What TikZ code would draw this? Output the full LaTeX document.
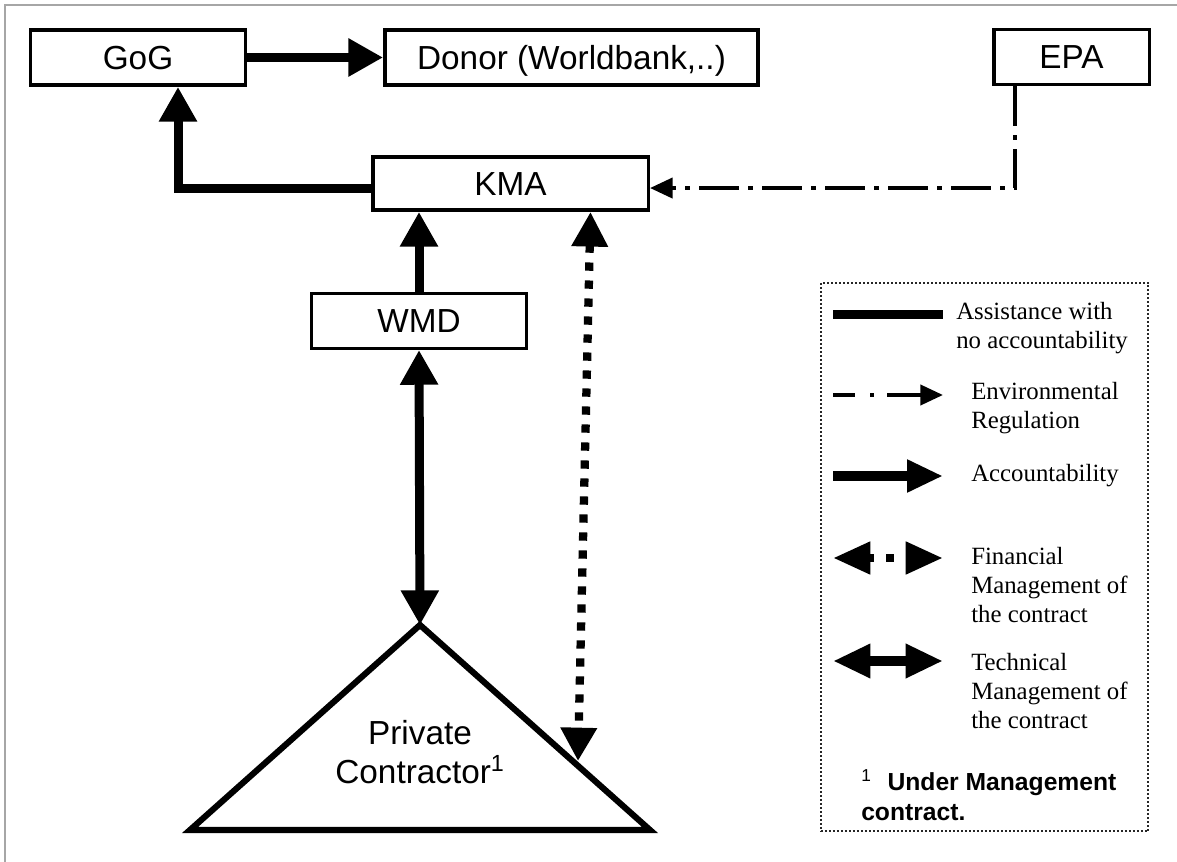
\documentclass[tikz,border=0pt]{standalone}
\usepackage{fontspec}
\setmainfont{Liberation Serif}
\newfontfamily\arialf{Liberation Sans}
\usetikzlibrary{arrows.meta,calc}
\begin{document}
\begin{tikzpicture}[x=0.75pt,y=-0.75pt,
  box/.style={draw,line width=2.6pt,inner sep=0pt,minimum height=41.5pt,
    text height=18pt,text depth=0pt,
    font=\arialf\fontsize{25}{29}\selectfont},
  acc/.style={line width=6.75pt,-{Triangle[length=26pt,width=27pt]}},
  tech/.style={line width=6.75pt,{Triangle[length=26pt,width=27pt]}-{Triangle[length=26pt,width=27pt]}},
  fin/.style={line width=6.2pt,dash pattern=on 6.2pt off 7.3pt,
    {Triangle[length=26pt,width=26pt]}-{Triangle[length=25pt,width=26pt]}},
  envl/.style={line width=3pt,dash pattern=on 30pt off 6.75pt on 3.75pt off 6.75pt,
    -{Triangle[length=17pt,width=15pt]}},
  legtext/.style={inner sep=0pt,align=left,font=\fontsize{18.6}{21.75}\selectfont},
  frame/.style={draw=black!35,line width=1.5pt}
]
\useasboundingbox (0,0) rectangle (1177,862);
\fill[white] (0,0) rectangle (1177,862);
% outer frame
\draw[frame] (4,5) -- (1177,5);
\draw[frame] (5,5) -- (5,862);

% boxes
\node[box,minimum width=161pt] (gog) at (138,57.5) {GoG};
\node[box,minimum width=280pt] (donor) at (571.5,57.5) {Donor (Worldbank,..)};
\node[box,minimum width=116.6pt] (epa) at (1071.5,57) {EPA};
\node[box,minimum width=206.6pt,minimum height=40pt] (kma) at (510.5,183.5) {KMA};
\node[box,minimum width=161pt,minimum height=41pt] (wmd) at (419,321) {WMD};

% triangle (private contractor)
\coordinate (apex) at (420,625);
\coordinate (tl) at (190,830);
\coordinate (tr) at (650,830);
\draw[line width=4.6pt,line join=miter] (apex) -- (tr) -- (tl) -- cycle;
\node[inner sep=0pt,align=center,font=\arialf\fontsize{25}{29.25}\selectfont] (pc) at (420,752)
  {Private\\Contractor\textsuperscript{1}};
\coordinate (fmend) at (578,761);

% connectors
\draw[acc] (gog.east) -- (donor.west);
\draw[acc] ([yshift=-4pt]kma.west) -| ([xshift=30pt]gog.south);
\draw[envl] ([xshift=-42.4pt]epa.south) |- ([yshift=-3.4pt]kma.east);
\draw[acc] (wmd.north) -- (wmd.north |- kma.south);
\draw[tech] (wmd.south) -- (apex);
\draw[fin] ([xshift=60pt]kma.south) -- (fmend);

% legend
\node[draw=black!85,line width=1.4pt,dash pattern=on 1.5pt off 1.5pt,
  minimum width=245.6pt,minimum height=411.6pt,inner sep=0pt] (legend) at (984.5,557) {};
\coordinate (l1a) at (833,315); \coordinate (l1b) at (943,315);
\coordinate (l2a) at (833,395); \coordinate (l2b) at (943,395);
\coordinate (l3a) at (833,476); \coordinate (l3b) at (943,476);
\coordinate (l4a) at (833,558); \coordinate (l4b) at (943,558);
\coordinate (l5a) at (833,661); \coordinate (l5b) at (943,661);
\draw[line width=6.75pt] (l1a) -- (l1b);
\draw[line width=3pt,dash pattern=on 16.5pt off 11.25pt on 3pt off 9.75pt on 100pt off 0pt,
  -{Triangle[length=17pt,width=15pt]}] (l2a) -- (l2b);
\draw[line width=7pt,-{Triangle[length=27pt,width=23pt]}] (l3a) -- (l3b);
\draw[line width=6.5pt,dash pattern=on 4.5pt off 9pt on 6pt off 9pt,
  {Triangle[length=28pt,width=23pt]}-{Triangle[length=28pt,width=23pt]}] (l4a) -- (l4b);
\draw[line width=7pt,{Triangle[length=28pt,width=24pt]}-{Triangle[length=28pt,width=24pt]}] (l5a) -- (l5b);

\node[legtext,anchor=west] (t1) at (956,328) {Assistance with\\no accountability};
\node[legtext,anchor=west] (t2) at (971,408) {Environmental\\Regulation};
\node[legtext,anchor=west] (t3) at (971,476) {Accountability};
\node[legtext,anchor=west] (t4) at (971,585) {Financial\\Management of\\the contract};
\node[legtext,anchor=west] (t5) at (971,691) {Technical\\Management of\\the contract};
\node[inner sep=0pt,align=left,anchor=west,font=\arialf\fontsize{18.5}{22.5}\selectfont] (fn) at (861,795)
  {\textsuperscript{1}\hspace{12pt}\textbf{Under Management}\\\textbf{contract.}};
\end{tikzpicture}
\end{document}
